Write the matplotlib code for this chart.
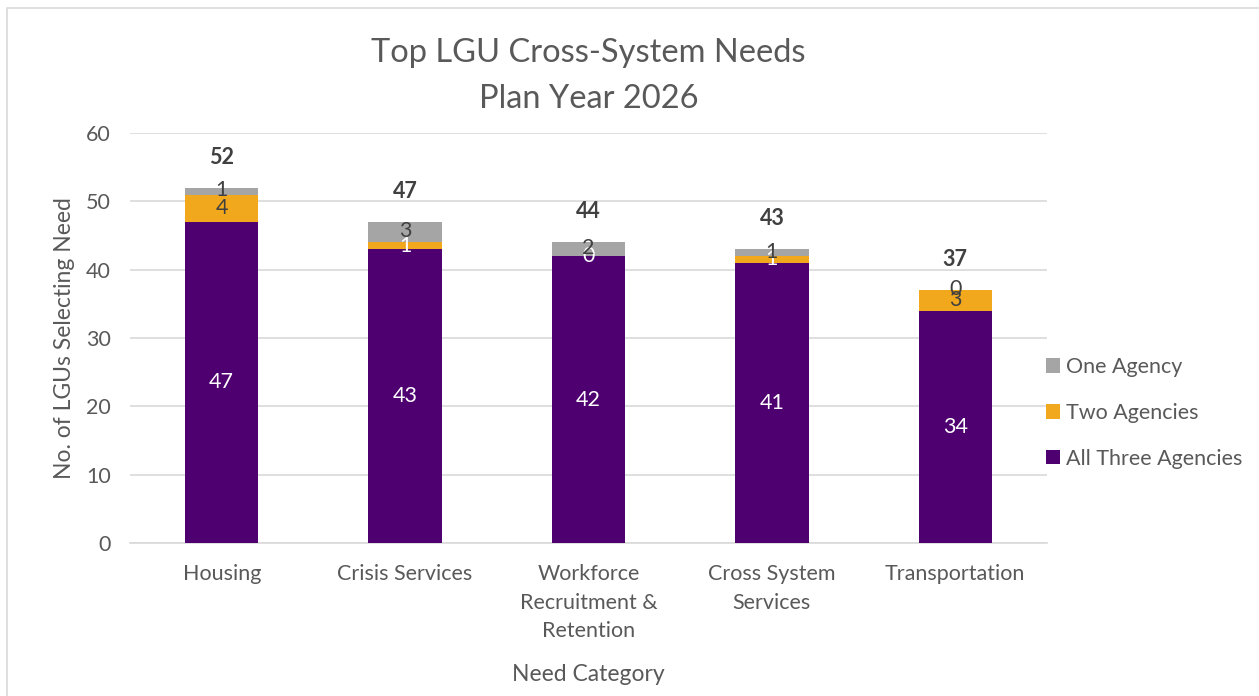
import numpy as np
import matplotlib as mpl
mpl.use('Agg')
import matplotlib.pyplot as plt
from matplotlib.patches import Rectangle

plt.rcParams['font.family'] = ['Lato', 'DejaVu Sans']

# data
categories = ['Housing', 'Crisis Services', 'Workforce\nRecruitment &\nRetention',
              'Cross System\nServices', 'Transportation']
all_three = [47, 43, 42, 41, 34]
two_agencies = [4, 1, 0, 1, 3]
one_agency = [1, 3, 2, 1, 0]
two_label_colors = ['#404040', 'white', 'white', 'white', '#404040']

c_purple = '#4f0070'
c_orange = '#f2a81d'
c_grey = '#a5a5a5'
txt = '#595959'

fig = plt.figure(figsize=(12.59, 6.96), dpi=100)
ax = fig.add_axes([130/1259, 1-543/696, 917/1259, 410/696])

x = np.arange(len(categories))
w = 0.40
all_three = np.array(all_three)
two_agencies = np.array(two_agencies)
one_agency = np.array(one_agency)

b1 = ax.bar(x, all_three, w, color=c_purple, label='All Three Agencies', zorder=3)
b2 = ax.bar(x, two_agencies, w, bottom=all_three, color=c_orange, label='Two Agencies', zorder=3)
b3 = ax.bar(x, one_agency, w, bottom=all_three + two_agencies, color=c_grey, label='One Agency', zorder=3)

lab_fs = 15.5
for i in range(len(x)):
    ax.text(x[i], all_three[i] / 2, str(all_three[i]), ha='center', va='center',
            color='white', fontsize=lab_fs, zorder=4)
    ax.text(x[i], all_three[i] + two_agencies[i] / 2, str(two_agencies[i]), ha='center', va='center',
            color=two_label_colors[i], fontsize=lab_fs, zorder=4)
    ax.text(x[i], all_three[i] + two_agencies[i] + one_agency[i] / 2 + 0.1, str(one_agency[i]),
            ha='center', va='center', color='#404040', fontsize=lab_fs, zorder=4)
    total = all_three[i] + two_agencies[i] + one_agency[i]
    ax.annotate(str(total), (x[i], total), xytext=(0, 22), textcoords='offset points',
                ha='center', va='center', fontsize=lab_fs, fontweight='bold', color='#404040')

ax.set_xlim(-0.5, len(x) - 0.5)
ax.set_ylim(0, 60)
ax.set_yticks(range(0, 61, 10))
ax.grid(axis='y', color='#d9d9d9', linewidth=1.2, zorder=0)
for s in ['top', 'right', 'left']:
    ax.spines[s].set_visible(False)
ax.spines['bottom'].set_color('#d9d9d9')
ax.spines['bottom'].set_linewidth(1.2)
ax.tick_params(axis='both', length=0, labelsize=15.5, colors=txt)
ax.set_xticks(x)
ax.set_xticklabels(categories, va='top', linespacing=1.55)
ax.tick_params(axis='x', pad=15)
ax.tick_params(axis='y', pad=14)

ax.set_ylabel('No. of LGUs Selecting Need', fontsize=16.5, color=txt, labelpad=8)
ax.set_xlabel('Need Category', fontsize=16.5, color=txt, labelpad=16)
ax.set_title('Top LGU Cross-System Needs\nPlan Year 2026', fontsize=23.5, color=txt, pad=18,
             linespacing=1.68)

handles = [b3, b2, b1]
leg = ax.legend(handles, [h.get_label() for h in handles], loc='center left',
                bbox_to_anchor=(0.997, 0.317), frameon=False, fontsize=15.5, handlelength=0.65,
                handleheight=0.65, handletextpad=0.25, labelspacing=1.2, labelcolor=txt,
                borderaxespad=0, borderpad=0.1)

# outer chart frame
fig.patches.append(Rectangle((7/1259, -0.1), 1.1, 1 - 8/696 + 0.1, transform=fig.transFigure,
                             fill=False, edgecolor='#d9d9d9', linewidth=1.2))

fig.savefig('out.png', dpi=100)
